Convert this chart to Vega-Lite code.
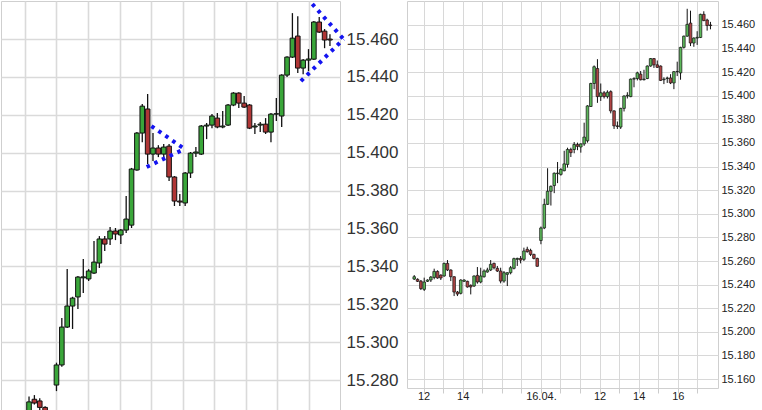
{
  "$schema": "https://vega.github.io/schema/vega-lite/v6.json",
  "padding": 0,
  "background": "white",
  "spacing": 67,
  "bounds": "flush",
  "datasets": {
    "candles": [
      {"t": -0.48, "o": 15.2447, "h": 15.2481, "l": 15.2439, "c": 15.2467},
      {"t": -0.31, "o": 15.2445, "h": 15.2453, "l": 15.2422, "c": 15.2428},
      {"t": -0.14, "o": 15.2430, "h": 15.2439, "l": 15.2354, "c": 15.2366},
      {"t": 0.03, "o": 15.2360, "h": 15.2459, "l": 15.2346, "c": 15.2422},
      {"t": 0.20, "o": 15.2428, "h": 15.2445, "l": 15.2422, "c": 15.2439},
      {"t": 0.37, "o": 15.2439, "h": 15.2473, "l": 15.2422, "c": 15.2464},
      {"t": 0.54, "o": 15.2461, "h": 15.2535, "l": 15.2445, "c": 15.2512},
      {"t": 0.71, "o": 15.2512, "h": 15.2521, "l": 15.2450, "c": 15.2456},
      {"t": 0.88, "o": 15.2481, "h": 15.2487, "l": 15.2439, "c": 15.2456},
      {"t": 1.05, "o": 15.2473, "h": 15.2586, "l": 15.2467, "c": 15.2580},
      {"t": 1.22, "o": 15.2580, "h": 15.2608, "l": 15.2515, "c": 15.2524},
      {"t": 1.39, "o": 15.2524, "h": 15.2529, "l": 15.2430, "c": 15.2467},
      {"t": 1.56, "o": 15.2467, "h": 15.2470, "l": 15.2303, "c": 15.2337},
      {"t": 1.73, "o": 15.2337, "h": 15.2346, "l": 15.2303, "c": 15.2320},
      {"t": 1.90, "o": 15.2326, "h": 15.2445, "l": 15.2317, "c": 15.2439},
      {"t": 2.07, "o": 15.2428, "h": 15.2445, "l": 15.2422, "c": 15.2439},
      {"t": 2.24, "o": 15.2428, "h": 15.2433, "l": 15.2374, "c": 15.2380},
      {"t": 2.41, "o": 15.2394, "h": 15.2402, "l": 15.2317, "c": 15.2380},
      {"t": 2.58, "o": 15.2388, "h": 15.2478, "l": 15.2380, "c": 15.2473},
      {"t": 2.75, "o": 15.2478, "h": 15.2549, "l": 15.2408, "c": 15.2422},
      {"t": 2.92, "o": 15.2422, "h": 15.2543, "l": 15.2411, "c": 15.2473},
      {"t": 3.09, "o": 15.2467, "h": 15.2529, "l": 15.2459, "c": 15.2515},
      {"t": 3.26, "o": 15.2507, "h": 15.2543, "l": 15.2501, "c": 15.2524},
      {"t": 3.43, "o": 15.2524, "h": 15.2608, "l": 15.2515, "c": 15.2572},
      {"t": 3.60, "o": 15.2580, "h": 15.2586, "l": 15.2529, "c": 15.2543},
      {"t": 3.77, "o": 15.2538, "h": 15.2558, "l": 15.2507, "c": 15.2515},
      {"t": 3.94, "o": 15.2515, "h": 15.2543, "l": 15.2411, "c": 15.2430},
      {"t": 4.11, "o": 15.2430, "h": 15.2515, "l": 15.2416, "c": 15.2501},
      {"t": 4.28, "o": 15.2487, "h": 15.2504, "l": 15.2388, "c": 15.2501},
      {"t": 4.45, "o": 15.2501, "h": 15.2558, "l": 15.2487, "c": 15.2543},
      {"t": 4.62, "o": 15.2538, "h": 15.2628, "l": 15.2529, "c": 15.2620},
      {"t": 4.79, "o": 15.2614, "h": 15.2628, "l": 15.2558, "c": 15.2622},
      {"t": 4.96, "o": 15.2622, "h": 15.2642, "l": 15.2580, "c": 15.2608},
      {"t": 5.13, "o": 15.2614, "h": 15.2713, "l": 15.2600, "c": 15.2685},
      {"t": 5.30, "o": 15.2699, "h": 15.2721, "l": 15.2671, "c": 15.2679},
      {"t": 5.47, "o": 15.2690, "h": 15.2704, "l": 15.2642, "c": 15.2656},
      {"t": 5.64, "o": 15.2656, "h": 15.2662, "l": 15.2614, "c": 15.2622},
      {"t": 5.81, "o": 15.2622, "h": 15.2628, "l": 15.2552, "c": 15.2555},
      {"t": 6.00, "o": 15.2774, "h": 15.2892, "l": 15.2742, "c": 15.2880},
      {"t": 6.17, "o": 15.2880, "h": 15.3128, "l": 15.2870, "c": 15.3080},
      {"t": 6.34, "o": 15.3080, "h": 15.3386, "l": 15.3075, "c": 15.3191},
      {"t": 6.51, "o": 15.3191, "h": 15.3240, "l": 15.3070, "c": 15.3233},
      {"t": 6.68, "o": 15.3239, "h": 15.3350, "l": 15.3175, "c": 15.3344},
      {"t": 6.85, "o": 15.3340, "h": 15.3439, "l": 15.3260, "c": 15.3345},
      {"t": 7.02, "o": 15.3334, "h": 15.3386, "l": 15.3323, "c": 15.3376},
      {"t": 7.19, "o": 15.3365, "h": 15.3534, "l": 15.3360, "c": 15.3423},
      {"t": 7.36, "o": 15.3418, "h": 15.3560, "l": 15.3392, "c": 15.3545},
      {"t": 7.53, "o": 15.3545, "h": 15.3560, "l": 15.3481, "c": 15.3518},
      {"t": 7.70, "o": 15.3545, "h": 15.3608, "l": 15.3513, "c": 15.3587},
      {"t": 7.87, "o": 15.3587, "h": 15.3603, "l": 15.3539, "c": 15.3571},
      {"t": 8.04, "o": 15.3566, "h": 15.3597, "l": 15.3518, "c": 15.3592},
      {"t": 8.21, "o": 15.3592, "h": 15.3772, "l": 15.3576, "c": 15.3650},
      {"t": 8.38, "o": 15.3618, "h": 15.3920, "l": 15.3603, "c": 15.3914},
      {"t": 8.55, "o": 15.3909, "h": 15.4110, "l": 15.3905, "c": 15.4104},
      {"t": 8.72, "o": 15.4104, "h": 15.4257, "l": 15.4056, "c": 15.4246},
      {"t": 8.89, "o": 15.4231, "h": 15.4310, "l": 15.3940, "c": 15.3993},
      {"t": 9.06, "o": 15.3993, "h": 15.4104, "l": 15.3956, "c": 15.4025},
      {"t": 9.23, "o": 15.4025, "h": 15.4040, "l": 15.3977, "c": 15.3993},
      {"t": 9.40, "o": 15.3993, "h": 15.4046, "l": 15.3977, "c": 15.4030},
      {"t": 9.57, "o": 15.4035, "h": 15.4046, "l": 15.3851, "c": 15.3872},
      {"t": 9.74, "o": 15.3872, "h": 15.3877, "l": 15.3719, "c": 15.3745},
      {"t": 9.91, "o": 15.3745, "h": 15.3782, "l": 15.3719, "c": 15.3740},
      {"t": 10.08, "o": 15.3735, "h": 15.3898, "l": 15.3719, "c": 15.3893},
      {"t": 10.25, "o": 15.3893, "h": 15.4004, "l": 15.3867, "c": 15.3998},
      {"t": 10.42, "o": 15.3998, "h": 15.4030, "l": 15.3977, "c": 15.4004},
      {"t": 10.59, "o": 15.3993, "h": 15.4146, "l": 15.3988, "c": 15.4141},
      {"t": 10.76, "o": 15.4141, "h": 15.4157, "l": 15.4072, "c": 15.4146},
      {"t": 10.93, "o": 15.4146, "h": 15.4204, "l": 15.4130, "c": 15.4194},
      {"t": 11.10, "o": 15.4183, "h": 15.4210, "l": 15.4130, "c": 15.4136},
      {"t": 11.27, "o": 15.4136, "h": 15.4220, "l": 15.4130, "c": 15.4141},
      {"t": 11.44, "o": 15.4146, "h": 15.4257, "l": 15.4141, "c": 15.4252},
      {"t": 11.61, "o": 15.4252, "h": 15.4320, "l": 15.4246, "c": 15.4315},
      {"t": 11.78, "o": 15.4315, "h": 15.4320, "l": 15.4236, "c": 15.4262},
      {"t": 11.95, "o": 15.4262, "h": 15.4299, "l": 15.4236, "c": 15.4241},
      {"t": 12.12, "o": 15.4252, "h": 15.4257, "l": 15.4125, "c": 15.4130},
      {"t": 12.29, "o": 15.4136, "h": 15.4157, "l": 15.4099, "c": 15.4141},
      {"t": 12.46, "o": 15.4146, "h": 15.4162, "l": 15.4109, "c": 15.4151},
      {"t": 12.63, "o": 15.4151, "h": 15.4183, "l": 15.4099, "c": 15.4109},
      {"t": 12.80, "o": 15.4109, "h": 15.4210, "l": 15.4056, "c": 15.4204},
      {"t": 12.97, "o": 15.4204, "h": 15.4289, "l": 15.4167, "c": 15.4206},
      {"t": 13.14, "o": 15.4194, "h": 15.4415, "l": 15.4136, "c": 15.4410},
      {"t": 13.31, "o": 15.4410, "h": 15.4510, "l": 15.4400, "c": 15.4505},
      {"t": 13.48, "o": 15.4505, "h": 15.4737, "l": 15.4500, "c": 15.4605},
      {"t": 13.65, "o": 15.4616, "h": 15.4721, "l": 15.4421, "c": 15.4447},
      {"t": 13.82, "o": 15.4447, "h": 15.4495, "l": 15.4415, "c": 15.4489},
      {"t": 13.99, "o": 15.4489, "h": 15.4547, "l": 15.4431, "c": 15.4495},
      {"t": 14.16, "o": 15.4494, "h": 15.4695, "l": 15.4489, "c": 15.4690},
      {"t": 14.33, "o": 15.4690, "h": 15.4716, "l": 15.4632, "c": 15.4637},
      {"t": 14.50, "o": 15.4642, "h": 15.4653, "l": 15.4552, "c": 15.4595},
      {"t": 14.67, "o": 15.4600, "h": 15.4626, "l": 15.4563, "c": 15.4595}
    ],
    "tri": [
      {"t1": 9.01, "p1": 15.4141, "t2": 10.06, "p2": 15.4020},
      {"t1": 8.86, "p1": 15.3925, "t2": 10.06, "p2": 15.4020},
      {"t1": 14.11, "p1": 15.4785, "t2": 15.10, "p2": 15.4600},
      {"t1": 13.75, "p1": 15.4378, "t2": 15.10, "p2": 15.4600}
    ]
  },
  "hconcat": [
    {
      "width": 339,
      "height": 410,
      "layer": [
        {
          "data": {"name": "candles"},
          "mark": {"type": "rule", "clip": true, "color": "#111111", "strokeWidth": 1.3},
          "encoding": {
            "x": {"field": "t", "type": "quantitative",
              "scale": {"domain": [4.40, 14.83], "nice": false, "zero": false},
              "axis": {"values": [5, 6, 7, 8, 9, 10, 11, 12, 13, 14], "labels": false, "ticks": false, "domain": false, "title": null, "gridColor": "#dadada", "gridWidth": 1.6}},
            "y": {"field": "l", "type": "quantitative",
              "scale": {"domain": [15.2637, 15.4801], "nice": false, "zero": false},
              "axis": {"orient": "right", "values": [15.28, 15.30, 15.32, 15.34, 15.36, 15.38, 15.40, 15.42, 15.44, 15.46], "labelOverlap": false, "format": ".3f", "labelFontSize": 17, "labelColor": "#333333", "labelFont": "Liberation Sans", "ticks": false, "domain": false, "labelPadding": 6, "title": null, "gridColor": "#dadada", "gridWidth": 1.6}},
            "y2": {"field": "h"}
          }
        },
        {
          "data": {"name": "candles"},
          "mark": {"type": "bar", "clip": true, "size": 4.6, "stroke": "#111111", "strokeWidth": 1},
          "encoding": {
            "x": {"field": "t", "type": "quantitative",
              "axis": {"values": [5, 6, 7, 8, 9, 10, 11, 12, 13, 14], "labels": false, "ticks": false, "domain": false, "title": null, "gridColor": "#dadada", "gridWidth": 1.6}},
            "y": {"field": "o", "type": "quantitative",
              "axis": {"orient": "right", "values": [15.28, 15.30, 15.32, 15.34, 15.36, 15.38, 15.40, 15.42, 15.44, 15.46], "labelOverlap": false, "format": ".3f", "labelFontSize": 17, "labelColor": "#333333", "labelFont": "Liberation Sans", "ticks": false, "domain": false, "labelPadding": 6, "title": null, "gridColor": "#dadada", "gridWidth": 1.6}},
            "y2": {"field": "c"},
            "fill": {"condition": {"test": "datum.c >= datum.o", "value": "#3aa63a"}, "value": "#b03636"}
          }
        },
        {
          "data": {"name": "tri"},
          "mark": {"type": "rule", "clip": false, "color": "#1414f0", "strokeWidth": 4, "strokeDash": [3.5, 5]},
          "encoding": {
            "x": {"field": "t1", "type": "quantitative",
              "axis": {"values": [5, 6, 7, 8, 9, 10, 11, 12, 13, 14], "labels": false, "ticks": false, "domain": false, "title": null, "gridColor": "#dadada", "gridWidth": 1.6}},
            "x2": {"field": "t2"},
            "y": {"field": "p1", "type": "quantitative",
              "axis": {"orient": "right", "values": [15.28, 15.30, 15.32, 15.34, 15.36, 15.38, 15.40, 15.42, 15.44, 15.46], "labelOverlap": false, "format": ".3f", "labelFontSize": 17, "labelColor": "#333333", "labelFont": "Liberation Sans", "ticks": false, "domain": false, "labelPadding": 6, "title": null, "gridColor": "#dadada", "gridWidth": 1.6}},
            "y2": {"field": "p2"}
          }
        }
      ]
    },
    {
      "width": 311,
      "height": 387,
      "data": {"name": "candles"},
      "layer": [
        {
          "mark": {"type": "rule", "clip": true, "color": "#111111", "strokeWidth": 1},
          "encoding": {
            "x": {"field": "t", "type": "quantitative",
              "scale": {"domain": [-0.594, 14.80], "nice": false, "zero": false},
              "axis": {"values": [0, 1, 2, 3, 4, 5, 6, 7, 8, 9, 10, 11, 12, 13, 14], "labelExpr": "datum.value == 0 ? '12' : datum.value == 2 ? '14' : datum.value == 6 ? '16.04.' : datum.value == 9 ? '12' : datum.value == 11 ? '14' : datum.value == 13 ? '16' : ''", "labelOverlap": false, "labelFontSize": 11, "labelColor": "#222222", "labelFont": "Liberation Sans", "ticks": true, "tickColor": "#cccccc", "tickSize": 5, "labelPadding": -3, "domain": false, "title": null, "gridColor": "#d8d8d8", "gridWidth": 1}},
            "y": {"field": "l", "type": "quantitative",
              "scale": {"domain": [15.1524, 15.4803], "nice": false, "zero": false},
              "axis": {"orient": "right", "values": [15.16, 15.18, 15.20, 15.22, 15.24, 15.26, 15.28, 15.30, 15.32, 15.34, 15.36, 15.38, 15.40, 15.42, 15.44, 15.46], "labelOverlap": false, "format": ".3f", "labelFontSize": 11, "labelColor": "#222222", "labelFont": "Liberation Sans", "ticks": false, "domain": false, "labelPadding": 3, "title": null, "gridColor": "#d8d8d8", "gridWidth": 1}},
            "y2": {"field": "h"}
          }
        },
        {
          "mark": {"type": "bar", "clip": true, "size": 2.6, "stroke": "#111111", "strokeWidth": 0.7},
          "encoding": {
            "x": {"field": "t", "type": "quantitative",
              "axis": {"values": [0, 1, 2, 3, 4, 5, 6, 7, 8, 9, 10, 11, 12, 13, 14], "labelExpr": "datum.value == 0 ? '12' : datum.value == 2 ? '14' : datum.value == 6 ? '16.04.' : datum.value == 9 ? '12' : datum.value == 11 ? '14' : datum.value == 13 ? '16' : ''", "labelOverlap": false, "labelFontSize": 11, "labelColor": "#222222", "labelFont": "Liberation Sans", "ticks": true, "tickColor": "#cccccc", "tickSize": 5, "labelPadding": -3, "domain": false, "title": null, "gridColor": "#d8d8d8", "gridWidth": 1}},
            "y": {"field": "o", "type": "quantitative",
              "axis": {"orient": "right", "values": [15.16, 15.18, 15.20, 15.22, 15.24, 15.26, 15.28, 15.30, 15.32, 15.34, 15.36, 15.38, 15.40, 15.42, 15.44, 15.46], "labelOverlap": false, "format": ".3f", "labelFontSize": 11, "labelColor": "#222222", "labelFont": "Liberation Sans", "ticks": false, "domain": false, "labelPadding": 3, "title": null, "gridColor": "#d8d8d8", "gridWidth": 1}},
            "y2": {"field": "c"},
            "fill": {"condition": {"test": "datum.c >= datum.o", "value": "#5cb85a"}, "value": "#b04444"}
          }
        }
      ]
    }
  ],
  "config": {
    "view": {"stroke": "#cfcfcf"},
    "axis": {"labelFont": "Liberation Sans"}
  }
}
